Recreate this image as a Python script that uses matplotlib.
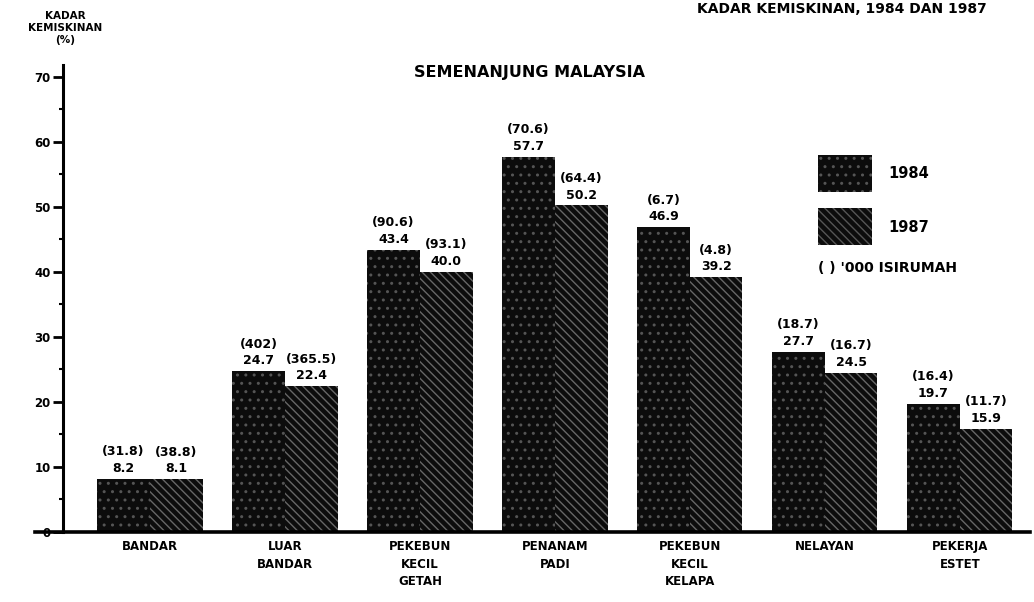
import matplotlib
matplotlib.use("Agg")
import matplotlib.pyplot as plt
from matplotlib.patches import Rectangle
from matplotlib.ticker import MultipleLocator

categories = ["BANDAR", "LUAR\nBANDAR", "PEKEBUN\nKECIL\nGETAH", "PENANAM\nPADI",
              "PEKEBUN\nKECIL\nKELAPA", "NELAYAN", "PEKERJA\nESTET"]
rate_1984 = [8.2, 24.7, 43.4, 57.7, 46.9, 27.7, 19.7]
rate_1987 = [8.1, 22.4, 40.0, 50.2, 39.2, 24.5, 15.9]
hh_1984 = ["(31.8)", "(402)", "(90.6)", "(70.6)", "(6.7)", "(18.7)", "(16.4)"]
hh_1987 = ["(38.8)", "(365.5)", "(93.1)", "(64.4)", "(4.8)", "(16.7)", "(11.7)"]
yticks = [0, 10, 20, 30, 40, 50, 60, 70]

W, H = 1034, 602
fig = plt.figure(figsize=(W / 100, H / 100), dpi=100)
ax = fig.add_axes([63 / W, 1 - 532 / H, (1030 - 63) / W, (532 - 65) / H])
ax.set_xlim(-0.644, 6.52)
ax.set_ylim(0, 71.8)

bw = 0.39
x = list(range(len(categories)))
fc = "#0c0c0c"
ax.bar([i - bw / 2 for i in x], rate_1984, width=bw, color=fc,
       edgecolor="#555555", hatch="..", linewidth=0)
ax.bar([i + bw / 2 for i in x], rate_1987, width=bw, color=fc,
       edgecolor="#666666", hatch="\\\\\\\\", linewidth=0)

fs = 9
for i in x:
    ax.text(i - bw / 2, rate_1984[i] + 0.6, hh_1984[i] + "\n" + f"{rate_1984[i]:.1f}",
            ha="center", va="bottom", fontsize=fs, fontweight="heavy", linespacing=1.35)
    ax.text(i + bw / 2, rate_1987[i] + 0.6, hh_1987[i] + "\n" + f"{rate_1987[i]:.1f}",
            ha="center", va="bottom", fontsize=fs, fontweight="heavy", linespacing=1.35)

for s in ["top", "right"]:
    ax.spines[s].set_visible(False)
ax.spines["left"].set_linewidth(2.2)
ax.spines["bottom"].set_linewidth(2.6)
ax.spines["bottom"].set_bounds(-0.85, 6.52)
ax.set_yticks(yticks)
ax.set_yticklabels([str(t) for t in yticks], fontsize=8.5, fontweight="heavy")
ax.yaxis.set_minor_locator(MultipleLocator(5))
ax.tick_params(axis="y", which="major", length=7, width=2, direction="out", pad=2)
ax.tick_params(axis="y", which="minor", length=3, width=1.5, direction="out")
ax.set_xticks(x)
ax.set_xticklabels(categories, fontsize=8.5, fontweight="heavy", linespacing=1.45)
ax.tick_params(axis="x", length=0, pad=6)

# y-axis title
fig.text(65 / W, 1 - 28 / H, "KADAR\nKEMISKINAN\n(%)", ha="center", va="center",
         fontsize=7.5, fontweight="heavy", linespacing=1.2)
# chart title
fig.text(530 / W, 1 - 72 / H, "SEMENANJUNG MALAYSIA", ha="center", va="center",
         fontsize=11.5, fontweight="heavy")
# heading at top right
fig.text(987 / W, 1 - 2 / H, "KADAR KEMISKINAN, 1984 DAN 1987", ha="right", va="top",
         fontsize=10, fontweight="heavy")

# legend
for (yy, hatch, lab) in [(155, "..", "1984"), (208, "\\\\\\\\", "1987")]:
    r = Rectangle((818 / W, 1 - (yy + 37) / H), 54 / W, 37 / H, transform=fig.transFigure,
                  facecolor=fc, edgecolor="#555555", hatch=hatch, linewidth=0)
    fig.add_artist(r)
    fig.text(888 / W, 1 - (yy + 19) / H, lab, ha="left", va="center",
             fontsize=10.5, fontweight="heavy")
fig.text(818 / W, 1 - 268 / H, "( ) '000 ISIRUMAH", ha="left", va="center",
         fontsize=10, fontweight="heavy")

fig.savefig("out.png", dpi=100)
